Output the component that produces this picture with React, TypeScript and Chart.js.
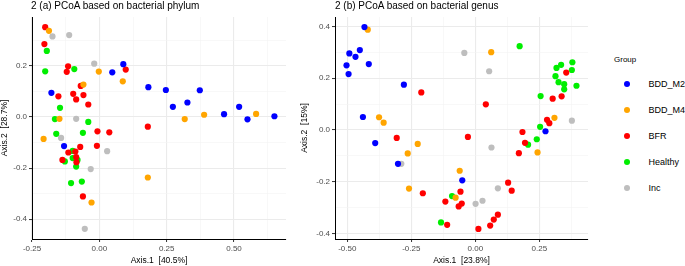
import React, { useEffect, useRef } from "react";
import { Chart, registerables } from "chart.js";
Chart.register(...registerables);

const FONT = "'Liberation Sans', Arial, Helvetica, sans-serif";

const groups = ["BDD_M2", "BDD_M4", "BFR", "Healthy", "Inc"];
const groupColors = ["#0000FF", "#FFA500", "#FF0000", "#00EE00", "#BEBEBE"];

// ---- Panel (a): phylum ----
const phylumBDDM2: [number, number][] = [
  [0.089, 0.207], [0.048, 0.175], [0.182, 0.117], [-0.178, 0.095], [-0.131, -0.114],
  [0.247, 0.106], [0.373, 0.105], [0.327, 0.057], [0.273, 0.04], [0.463, 0.011],
  [0.519, 0.04], [0.55, -0.009], [0.65, 0.003],
];
const phylumBDDM4: [number, number][] = [
  [-0.187, 0.338], [-0.059, 0.127], [-0.002, 0.178], [0.087, 0.14], [-0.148, -0.007],
  [-0.207, -0.086], [0.18, -0.237], [-0.029, -0.335], [0.317, -0.008], [0.389, 0.009],
  [0.582, 0.012],
];
const phylumBFR: [number, number][] = [
  [-0.201, 0.352], [-0.204, 0.286], [-0.116, 0.199], [-0.121, 0.177], [0.098, 0.186],
  [-0.069, 0.122], [-0.097, 0.091], [-0.059, 0.086], [-0.152, 0.081], [-0.086, 0.069],
  [-0.041, 0.049], [0.18, -0.038], [-0.007, -0.056], [0.037, -0.06], [-0.009, -0.113],
  [-0.071, -0.117], [-0.089, -0.135], [-0.115, -0.139], [-0.086, -0.157], [-0.137, -0.168],
  [-0.085, -0.177], [-0.061, -0.311],
];
const phylumHealthy: [number, number][] = [
  [-0.195, 0.259], [-0.201, 0.179], [-0.093, 0.188], [-0.146, 0.036], [-0.165, -0.008],
  [-0.041, -0.019], [-0.16, -0.066], [-0.061, -0.062], [-0.099, -0.133], [-0.128, -0.174],
  [-0.099, -0.161], [-0.081, -0.168], [-0.086, -0.194], [-0.105, -0.259], [-0.065, -0.253],
];
const phylumInc: [number, number][] = [
  [-0.174, 0.316], [-0.112, 0.321], [-0.019, 0.209], [-0.086, -0.007], [-0.142, -0.082],
  [0.029, -0.134], [-0.032, -0.204], [-0.054, -0.438],
];
const phylumXTicks = [-0.25, -0.125, 0, 0.125, 0.25, 0.375, 0.5, 0.625];
const phylumXMajor = [-0.25, 0, 0.25, 0.5];
const phylumXLabels = ["-0.25", "0.00", "0.25", "0.50"];
const phylumYTicks = [-0.4, -0.3, -0.2, -0.1, 0, 0.1, 0.2, 0.3];
const phylumYMajor = [-0.4, -0.2, 0, 0.2];
const phylumYLabels = ["-0.4", "-0.2", "0.0", "0.2"];

// ---- Panel (b): genus ----
const genusBDDM2: [number, number][] = [
  [-0.433, 0.398], [-0.492, 0.296], [-0.451, 0.309], [-0.468, 0.283], [-0.503, 0.25],
  [-0.416, 0.255], [-0.495, 0.216], [-0.279, 0.175], [-0.439, 0.05], [-0.391, -0.051],
  [-0.302, -0.131], [-0.051, -0.195], [0.274, -0.005],
];
const genusBDDM4: [number, number][] = [
  [-0.42, 0.388], [-0.376, 0.049], [-0.358, 0.028], [-0.225, -0.054], [-0.264, -0.091],
  [-0.259, -0.227], [-0.061, -0.158], [-0.077, -0.262], [0.062, 0.301], [0.309, 0.047],
  [0.243, -0.087],
];
const genusBFR: [number, number][] = [
  [-0.211, 0.145], [-0.307, -0.031], [-0.205, -0.245], [-0.117, -0.277], [-0.11, -0.367],
  [0.041, 0.099], [-0.029, -0.027], [-0.058, -0.239], [-0.053, -0.285], [-0.065, -0.296],
  [0.012, -0.383], [0.058, -0.37], [0.072, -0.347], [0.088, -0.328], [0.128, -0.204],
  [0.142, -0.235], [0.17, -0.09], [0.184, -0.008], [0.194, -0.05], [0.28, 0.039],
  [0.289, 0.026], [0.302, 0.121], [0.337, 0.13], [0.355, 0.222],
];
const genusHealthy: [number, number][] = [
  [-0.134, -0.358], [-0.091, -0.256], [0.173, 0.324], [0.255, 0.131], [0.253, 0.012],
  [0.24, -0.036], [0.206, -0.057], [0.317, 0.24], [0.335, 0.252], [0.379, 0.262],
  [0.377, 0.232], [0.313, 0.208], [0.325, 0.185], [0.347, 0.177], [0.347, 0.157],
  [0.395, 0.171],
];
const genusInc: [number, number][] = [
  [-0.289, -0.131], [-0.043, 0.298], [0.054, 0.227], [0.063, -0.068], [0.088, -0.226],
  [0.028, -0.274], [0.001, -0.286], [0.377, 0.036],
];
const genusXTicks = [-0.5, -0.375, -0.25, -0.125, 0, 0.125, 0.25, 0.375];
const genusXMajor = [-0.5, -0.25, 0, 0.25];
const genusXLabels = ["-0.50", "-0.25", "0.00", "0.25"];
const genusYTicks = [-0.4, -0.3, -0.2, -0.1, 0, 0.1, 0.2, 0.3, 0.4];
const genusYMajor = [-0.4, -0.2, 0, 0.2, 0.4];
const genusYLabels = ["-0.4", "-0.2", "0.0", "0.2", "0.4"];

type Pts = [number, number][];

interface PanelProps {
  series: Pts[];
  xMin: number; xMax: number; yMin: number; yMax: number;
  xTicks: number[]; xMajor: number[]; xLabels: string[];
  yTicks: number[]; yMajor: number[]; yLabels: string[];
  xTitle: string; yTitle: string;
  yAxisWidth: number; rightPad: number;
  width: number; height: number;
}

const near = (a: number, b: number) => Math.abs(a - b) < 1e-6;

function Panel(p: PanelProps) {
  const ref = useRef<HTMLCanvasElement | null>(null);
  useEffect(() => {
    if (!ref.current) return;
    const isMajor = (arr: number[], v: number) => arr.some((m) => near(m, v));
    const labelFor = (arr: number[], labels: string[], v: number) => {
      const i = arr.findIndex((m) => near(m, v));
      return i >= 0 ? labels[i] : "";
    };
    const axis = (
      ticks: number[], major: number[], labels: string[], title: string,
      min: number, max: number, isX: boolean
    ) => ({
      type: "linear" as const,
      min, max,
      afterBuildTicks: (s: any) => { s.ticks = ticks.map((v) => ({ value: v })); },
      afterFit: (s: any) => {
        if (isX) s.height = 27; else s.width = p.yAxisWidth;
      },
      border: { display: true, color: "#000000", width: 1 },
      grid: {
        color: (c: any) => (isMajor(major, c.tick?.value) ? "#ebebeb" : "#f3f3f3"),
        lineWidth: (c: any) => (isMajor(major, c.tick?.value) ? 1.1 : 0.6),
        tickLength: 3,
        tickWidth: 1,
        tickColor: (c: any) => (isMajor(major, c.tick?.value) ? "#333333" : "rgba(0,0,0,0)"),
      },
      ticks: {
        autoSkip: false,
        maxRotation: 0,
        padding: 2,
        color: "#4d4d4d",
        font: { family: FONT, size: 8 },
        callback: (v: any) => labelFor(major, labels, Number(v)),
      },
      title: {
        display: true,
        text: title,
        color: "#000000",
        font: { family: FONT, size: 8.5 },
        padding: 0,
      },
    });
    const chart = new Chart(ref.current, {
      type: "scatter",
      data: {
        datasets: p.series.map((pts, i) => ({
          label: groups[i],
          data: pts.map(([x, y]) => ({ x, y })),
          pointRadius: 3.1,
          pointBorderWidth: 0,
          pointBackgroundColor: groupColors[i],
          backgroundColor: groupColors[i],
          borderColor: groupColors[i],
        })),
      },
      options: {
        animation: false,
        responsive: false,
        devicePixelRatio: 1,
        layout: { padding: { left: 0, top: 17, right: p.rightPad, bottom: 0 } },
        plugins: { legend: { display: false }, tooltip: { enabled: false }, title: { display: false } },
        scales: {
          x: axis(p.xTicks, p.xMajor, p.xLabels, p.xTitle, p.xMin, p.xMax, true),
          y: axis(p.yTicks, p.yMajor, p.yLabels, p.yTitle, p.yMin, p.yMax, false),
        },
      },
    });
    return () => chart.destroy();
  }, []);
  return <canvas ref={ref} width={p.width} height={p.height} style={{ display: "block" }} />;
}

export default function App() {
  useEffect(() => {
    document.body.style.margin = "0";
  }, []);
  const titleStyle: React.CSSProperties = {
    position: "absolute", top: 0, fontFamily: FONT, fontSize: 10, color: "#000",
    whiteSpace: "nowrap", lineHeight: "11px",
  };
  const legendTop = [84, 110, 136, 162, 188];
  return (
    <div style={{ position: "fixed", left: 0, top: 0, width: 685, height: 266, background: "#fff", overflow: "hidden" }}>
      <div style={{ position: "absolute", left: 0, top: 0 }}>
        <Panel
          series={[phylumBDDM2, phylumBDDM4, phylumBFR, phylumHealthy, phylumInc]}
          xMin={-0.25} xMax={0.693} yMin={-0.478} yMax={0.392}
          xTicks={phylumXTicks} xMajor={phylumXMajor} xLabels={phylumXLabels}
          yTicks={phylumYTicks} yMajor={phylumYMajor} yLabels={phylumYLabels}
          xTitle="Axis.1  [40.5%]" yTitle="Axis.2  [28.7%]"
          yAxisWidth={32} rightPad={14} width={300} height={266}
        />
      </div>
      <div style={{ position: "absolute", left: 300, top: 0 }}>
        <Panel
          series={[genusBDDM2, genusBDDM4, genusBFR, genusHealthy, genusInc]}
          xMin={-0.548} xMax={0.44} yMin={-0.422} yMax={0.437}
          xTicks={genusXTicks} xMajor={genusXMajor} xLabels={genusXLabels}
          yTicks={genusYTicks} yMajor={genusYMajor} yLabels={genusYLabels}
          xTitle="Axis.1  [23.8%]" yTitle="Axis.2  [15%]"
          yAxisWidth={35} rightPad={12} width={300} height={266}
        />
      </div>
      <div style={{ ...titleStyle, left: 31 }}>2 (a) PCoA based on bacterial phylum</div>
      <div style={{ ...titleStyle, left: 335 }}>2 (b) PCoA based on bacterial genus</div>
      <div style={{ position: "absolute", left: 614, top: 55, fontFamily: FONT, fontSize: 8, color: "#000", lineHeight: "10px" }}>Group</div>
      {groups.map((g, i) => (
        <React.Fragment key={g}>
          <div style={{
            position: "absolute", left: 627 - 3.2, top: legendTop[i] - 3.2, width: 6.4, height: 6.4,
            borderRadius: "50%", background: groupColors[i],
          }} />
          <div style={{
            position: "absolute", left: 648.5, top: legendTop[i] - 6, fontFamily: FONT, fontSize: 9,
            color: "#000", lineHeight: "12px", whiteSpace: "nowrap",
          }}>{g}</div>
        </React.Fragment>
      ))}
    </div>
  );
}
